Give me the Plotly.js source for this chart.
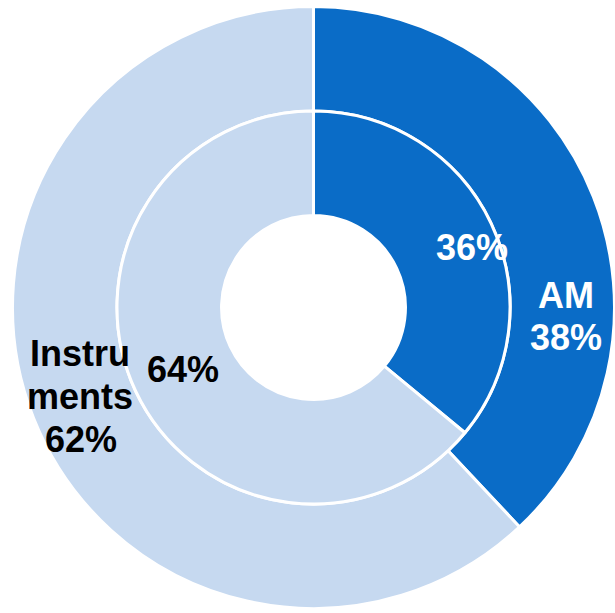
<!DOCTYPE html>
<html>
<head>
<meta charset="utf-8">
<script src="https://cdn.plot.ly/plotly-3.0.1.min.js"></script>
<style>html,body{margin:0;padding:0;background:#fff;}#chart{width:615px;height:613px;}</style>
</head>
<body>
<div id="chart"></div>
<script>
// Data
const categories = ['AM', 'Instruments'];
const outerValues = [38, 62];
const innerValues = [36, 64];
const outerNameLines = [['AM'], ['Instru', 'ments']];
const sliceColors = ['#0A6CC7', '#C6D9F0'];
const labelColors = ['#FFFFFF', '#000000'];

const W = 615, H = 613;
const fontFam = 'Liberation Sans, Arial, sans-serif';
const fs = 36;

function px2x(px) { return px / W; }
function px2y(py) { return 1 - py / H; }

const outer = {
  type: 'pie', values: outerValues, labels: categories, sort: false,
  direction: 'clockwise', rotation: 0, hole: 0.653,
  marker: { colors: sliceColors, line: { color: '#FFFFFF', width: 3 } },
  textinfo: 'none', hoverinfo: 'label+percent', showlegend: false,
  domain: { x: [12.5 / W, 614.5 / W], y: [1 - 608.5 / H, 1 - 6.5 / H] }
};
const inner = {
  type: 'pie', values: innerValues, labels: categories, sort: false,
  direction: 'clockwise', rotation: 0, hole: 0.468,
  marker: { colors: sliceColors, line: { color: '#FFFFFF', width: 3 } },
  textinfo: 'none', hoverinfo: 'label+percent', showlegend: false,
  domain: { x: [117 / W, 510 / W], y: [1 - 504 / H, 1 - 111 / H] }
};

// Label placement (pixel centres of each text line)
const outerLinePos = [
  [[565.5, 295.5], [566.3, 337]],
  [[79.5, 353], [79.7, 396], [80.8, 439]]
];
const innerPos = [[471.5, 247.5], [183, 369]];

const annotations = [];
categories.forEach((c, i) => {
  const lines = outerNameLines[i].concat([outerValues[i] + '%']);
  lines.forEach((t, j) => {
    const p = outerLinePos[i][j];
    annotations.push({ text: '<b>' + t + '</b>', x: px2x(p[0]), y: px2y(p[1]), xref: 'paper', yref: 'paper',
      xanchor: 'center', yanchor: 'middle', showarrow: false,
      font: { family: fontFam, size: fs, color: labelColors[i] } });
  });
  const q = innerPos[i];
  annotations.push({ text: '<b>' + innerValues[i] + '%</b>', x: px2x(q[0]), y: px2y(q[1]), xref: 'paper', yref: 'paper',
    xanchor: 'center', yanchor: 'middle', showarrow: false,
    font: { family: fontFam, size: fs, color: labelColors[i] } });
});

Plotly.newPlot('chart', [outer, inner], {
  width: W, height: H,
  margin: { l: 0, r: 0, t: 0, b: 0, pad: 0 },
  paper_bgcolor: '#FFFFFF', plot_bgcolor: '#FFFFFF',
  showlegend: false,
  annotations: annotations
}, { displayModeBar: false, staticPlot: true });
</script>
</body>
</html>
